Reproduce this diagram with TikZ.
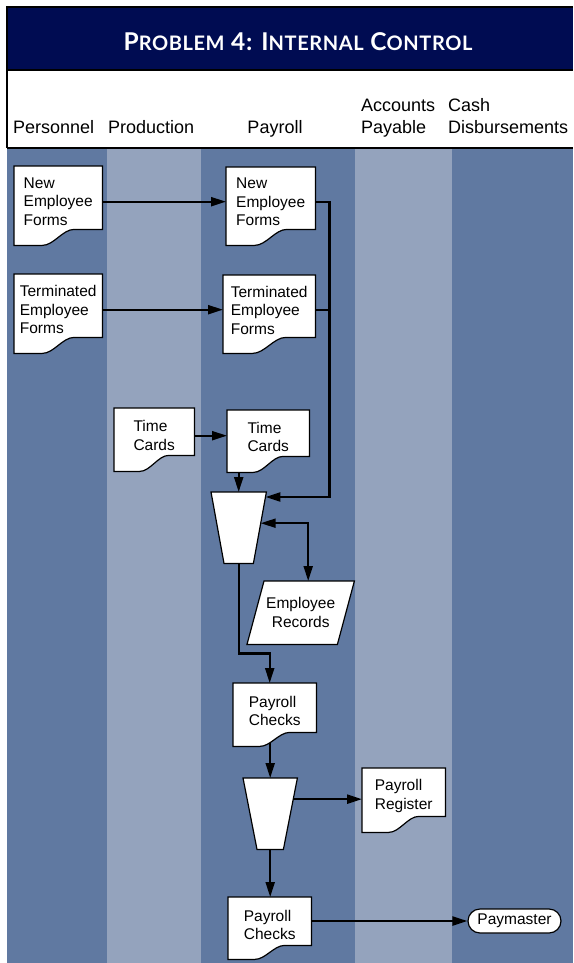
\documentclass[tikz,border=0pt]{standalone}
\usepackage{fontspec}
\setmainfont{Liberation Sans}
\newfontfamily\titlefont[LetterSpace=3]{Lato}
\usetikzlibrary{arrows.meta,calc}
\pgfdeclarelayer{lanes}
\pgfdeclarelayer{conn}
\pgfdeclarelayer{shapes}
\pgfsetlayers{lanes,conn,shapes,main}
\definecolor{navy}{RGB}{0,12,82}
\definecolor{lanedark}{RGB}{96,121,161}
\definecolor{lanelight}{RGB}{148,163,189}
\newcommand\mysc[1]{{\fontsize{20}{20}\selectfont #1}}
\newcommand\docout[2]{%
  \path[docline] let \p1=(#1.south west), \p2=(#1.north east) in
   (\x1,\y2) -- (\x2,\y2) -- (\x2,{\y1+#2}) -- ({0.32*\x1+0.68*\x2},{\y1+#2})
   .. controls ({0.45*\x1+0.55*\x2},{\y1+#2}) and ({0.55*\x1+0.45*\x2},{\y1-#2}) .. ({0.68*\x1+0.32*\x2},{\y1-#2})
   -- (\x1,{\y1-#2}) -- cycle;}
\newcommand\trapout[2]{%
  \path[docline] let \p1=(#1.south west), \p2=(#1.north east) in
   (\x1,\y2) -- (\x2,\y2) -- ({\x2-#2},\y1) -- ({\x1+#2},\y1) -- cycle;}
\newcommand\paraout[2]{%
  \path[docline] let \p1=(#1.south west), \p2=(#1.north east) in
   ({\x1+#2},\y2) -- (\x2,\y2) -- ({\x2-#2},\y1) -- (\x1,\y1) -- cycle;}
\begin{document}
\begin{tikzpicture}[x=1pt,y=-1pt,
  docline/.style={draw=black,fill=white,line width=1.2pt},
  docnode/.style={anchor=north west,inner sep=0pt,align=left,font=\fontsize{15.5}{18.5}\selectfont},
  trapnode/.style={anchor=north west,inner sep=0pt},
  labelf/.style={font=\fontsize{18}{22}\selectfont,inner sep=0pt},
  frame/.style={line width=1.5pt,draw=black},
  arr/.style={line width=2.3pt,-{Triangle[length=15pt,width=9pt]}},
  arrtwo/.style={line width=2.3pt,{Triangle[length=15pt,width=9pt]}-{Triangle[length=15pt,width=9pt]}},
  ln/.style={line width=2.3pt}]
\useasboundingbox (0,0) rectangle (573,963);
\begin{pgfonlayer}{lanes}
  \fill[white] (0,0) rectangle (573,963);
  \fill[navy] (7,7) rectangle (573,70);
  \fill[lanedark] (7,148) rectangle (107,963);
  \fill[lanelight] (107,148) rectangle (201,963);
  \fill[lanedark] (201,148) rectangle (355,963);
  \fill[lanelight] (355,148) rectangle (452,963);
  \fill[lanedark] (452,148) rectangle (573,963);
  \draw[frame] (573,7) -- (7,7) -- (7,148);
  \draw[frame] (7,70) -- (573,70);
  \draw[frame] (7,148) -- (573,148);
\end{pgfonlayer}

\node[text=white,inner sep=0pt,font=\titlefont\bfseries\fontsize{24.5}{24.5}\selectfont] (title) at (298,42) {P\mysc{ROBLEM} 4: I\mysc{NTERNAL} C\mysc{ONTROL}};

\node[labelf,anchor=base west] (hper) at (13,134) {Personnel};
\node[labelf,anchor=base west] (hpro) at (108,134) {Production};
\node[labelf,anchor=base] (hpay) at (275,134) {Payroll};
\node[labelf,anchor=base west,align=left] (hap) at (361,134) {Accounts\\Payable};
\node[labelf,anchor=base west,align=left] (hcd) at (448,134) {Cash\\Disbursements};

\node[docnode,minimum width=88,minimum height=71] (ne1) at (14,166) {New\\Employee\\Forms};
\node[docnode,minimum width=89,minimum height=70] (ne2) at (226,167) {New\\Employee\\Forms};
\node[docnode,minimum width=88,minimum height=71] (t1) at (14,274) {Terminated\\Employee\\Forms};
\node[docnode,minimum width=92,minimum height=70] (t2) at (223,275) {Terminated\\Employee\\Forms};
\node[docnode,minimum width=80,minimum height=55] (tc1) at (114,408) {Time\\Cards};
\node[docnode,minimum width=82,minimum height=54] (tc2) at (227,410) {Time\\Cards};
\node[trapnode,minimum width=55,minimum height=71] (m1) at (211,492) {};
\node[docnode,align=center,minimum width=107,minimum height=63] (er) at (247,581) {Employee\\Records};
\node[docnode,minimum width=83,minimum height=56] (pc1) at (233,683) {Payroll\\Checks};
\node[trapnode,minimum width=54,minimum height=71] (m2) at (243,778) {};
\node[docnode,minimum width=83,minimum height=56] (pr) at (362,768) {Payroll\\Register};
\node[docnode,minimum width=83,minimum height=55] (pc2) at (228,897) {Payroll\\Checks};
\node[draw=black,fill=white,line width=1.2pt,rounded corners=12pt,minimum width=93,minimum height=24,inner sep=0pt,font=\fontsize{15.5}{18.5}\selectfont] (pm) at (514.5,921) {Paymaster};

\begin{pgfonlayer}{shapes}
  \docout{ne1}{8pt}
  \docout{ne2}{8pt}
  \docout{t1}{8pt}
  \docout{t2}{8pt}
  \docout{tc1}{8pt}
  \docout{tc2}{8pt}
  \docout{pc1}{7pt}
  \docout{pr}{8pt}
  \docout{pc2}{7pt}
  \trapout{m1}{13pt}
  \trapout{m2}{14pt}
  \paraout{er}{17pt}
\end{pgfonlayer}

\coordinate (m1in1) at ($(m1.north east)!0.07!([xshift=-13pt]m1.south east)$);
\coordinate (m1in2) at ($(m1.north east)!0.437!([xshift=-13pt]m1.south east)$);
\coordinate (m2in) at ($(m2.north east)!0.296!([xshift=-14pt]m2.south east)$);

\begin{pgfonlayer}{conn}
  \draw[arr] (ne1.east) -- (ne1.east -| ne2.west);
  \draw[arr] (t1.east) -- (t1.east -| t2.west);
  \draw[arr] (tc1.east) -- (tc1.east -| tc2.west);
  \draw[arr] (ne2.east) -- ++(14,0) |- (m1in1);
  \draw[ln] (t2.east) -- ++(14,0);
  \draw[arr] (tc2.south -| m1.north) -- (m1.north);
  \draw[arrtwo] (m1in2) -| ([xshift=7.5pt]er.north);
  \draw[arr] (m1.south) -- ++(0,90) -| ([xshift=-5pt]pc1.north);
  \draw[arr] (pc1.south -| m2.north) -- (m2.north);
  \draw[arr] (m2in) -- (m2in -| pr.west);
  \draw[arr] (m2.south) -- (m2.south |- pc2.north);
  \draw[arr] (pc2.east |- pm.west) -- (pm.west);
\end{pgfonlayer}
\end{tikzpicture}
\end{document}
